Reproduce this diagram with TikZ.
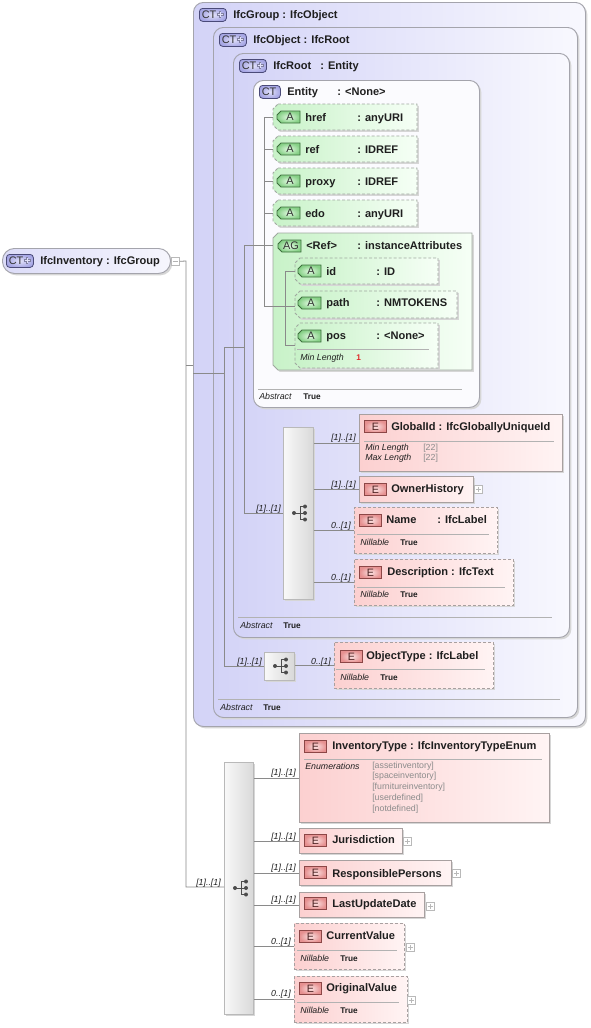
\documentclass[tikz,border=0pt]{standalone}
\usepackage{fontspec}
\setmainfont{Liberation Sans}
\usetikzlibrary{shadows}

\definecolor{lavL}{HTML}{D3D3F7}
\definecolor{lavR}{HTML}{F8F8FE}
\definecolor{rootL}{HTML}{DCDCF8}
\definecolor{rootR}{HTML}{F6F6FD}
\definecolor{entF}{HTML}{FBFBFE}
\definecolor{bord}{HTML}{A4A4AC}
\definecolor{conn}{HTML}{8A8A8A}
\definecolor{pinkL}{HTML}{FCD0D0}
\definecolor{pinkR}{HTML}{FFF4F4}
\definecolor{ebord}{HTML}{A8A0A0}
\definecolor{grnL}{HTML}{C8F2C8}
\definecolor{grnR}{HTML}{F6FFF6}
\definecolor{abord}{HTML}{A0A8A0}
\definecolor{ctIn}{HTML}{E2E2FA}
\definecolor{ctOut}{HTML}{A6A6E4}
\definecolor{ctD}{HTML}{4A4A78}
\definecolor{eIn}{HTML}{FBE2E2}
\definecolor{eOut}{HTML}{E69090}
\definecolor{eD}{HTML}{8C4646}
\definecolor{eT}{HTML}{4A2020}
\definecolor{aIn}{HTML}{E2FAE2}
\definecolor{aOut}{HTML}{86D086}
\definecolor{aD}{HTML}{3C6E3C}
\definecolor{enumc}{HTML}{8C8C8C}
\definecolor{redv}{HTML}{E02828}

\tikzset{
 cn/.style={draw=conn,line width=0.6pt},
 shd/.style={drop shadow={shadow xshift=1.4pt,shadow yshift=-1.4pt,fill=black!16,opacity=1}},
 ctbig/.style={draw=bord,line width=0.7pt,rounded corners=7.5pt,left color=lavL,right color=lavR,shd},
 entbox/.style={draw=bord,line width=0.7pt,rounded corners=7.5pt,fill=entF,shd},
 rootbox/.style={draw=bord,line width=0.7pt,rounded corners=9pt,left color=rootL,right color=rootR,shd},
 ebox/.style={draw=ebord,line width=0.6pt,left color=pinkL,right color=pinkR,shd},
 eboxd/.style={ebox,dash pattern=on 2.2pt off 1.5pt},
 attbox/.style={draw=abord,line width=0.6pt,left color=grnL,right color=grnR,dash pattern=on 2.2pt off 1.5pt,shd},
 agbox/.style={draw=abord,line width=0.6pt,left color=grnL,right color=grnR,shd},
 seqbox/.style={draw=gray!55,line width=0.6pt,left color=gray!5,right color=gray!30,shd},
 pmbox/.style={draw=gray!55,line width=0.5pt,fill=white},
 ebadge/.style={draw=eD,line width=0.6pt,inner color=eIn,outer color=eOut,minimum width=16.5pt,minimum height=9pt,inner sep=0pt,font=\fontsize{8}{9}\selectfont,text=eT},
 abadge/.style={draw=aD,line width=0.6pt,inner color=aIn,outer color=aOut},
 ctbadge/.style={draw=ctD,line width=0.6pt,rounded corners=2.5pt,inner color=ctIn,outer color=ctOut,minimum height=9.75pt,inner sep=0pt},
 badgetx/.style={inner sep=0pt,font=\fontsize{8.2}{9}\selectfont,text=black!80},
 tx/.style={inner sep=0pt,text=black!88,font=\fontsize{8.3}{10}\selectfont\bfseries},
 sm/.style={font=\fontsize{6.6}{8}\selectfont\itshape},
 tru/.style={font=\fontsize{6.2}{8}\selectfont\bfseries},
 card/.style={anchor=base east,font=\fontsize{6.6}{8}\selectfont\itshape},
 gv/.style={font=\fontsize{6.6}{8}\selectfont,text=enumc},
 sepl/.style={draw=gray!60,line width=0.6pt},
}

\newcounter{nn}
\newcommand\Bx[6]{\node[#1,anchor=north west,inner sep=0pt,minimum width={(#5-(#3))*0.75pt},minimum height={(#6-(#4))*0.75pt}] (#2) at (#3,#4) {};}
\newcommand\Cb[6]{\path[#1] (#3+5,#4) -- (#5,#4) -- (#5,#6) -- (#3+5,#6) -- (#3,#6-5) -- (#3,#4+5) -- cycle;
  \coordinate (#2) at (#3,{(#4+#6)/2});}
\newcommand\Tx[4][]{\stepcounter{nn}\node[tx,anchor=base west,#1] (t\arabic{nn}) at (#2,#3) {#4};}
\newcommand\Eb[2]{\stepcounter{nn}\node[ebadge,anchor=north west] (b\arabic{nn}) at (#1,#2) {E};}
\newcommand\Ab[3]{\path[abadge] (#1+4,#2) -- (#1+23,#2) -- (#1+23,#2+12) -- (#1+4,#2+12) -- (#1,#2+8) -- (#1,#2+4) -- cycle;
  \stepcounter{nn}\node[badgetx] (b\arabic{nn}) at (#1+13,#2+6) {#3};}
\newcommand\CTb[3]{\stepcounter{nn}\node[ctbadge,anchor=north west,minimum width={#3*0.75pt}] (b\arabic{nn}) at (#1,#2) {};
  \node[badgetx,anchor=west] (c\arabic{nn}) at (#1+2.5,#2+6.5) {CT};}
\newcommand\CTp[2]{\CTb{#1}{#2}{27}
  \draw[ctD!70,line width=2.1pt] (#1+17.5,#2+6.5) -- (#1+24.5,#2+6.5) (#1+21,#2+3) -- (#1+21,#2+10);
  \draw[ctIn,line width=0.5pt] (#1+18.5,#2+6.5) -- (#1+23.5,#2+6.5) (#1+21,#2+4) -- (#1+21,#2+9);}
\newcommand\Plus[2]{\stepcounter{nn}\Bx{pmbox}{p\arabic{nn}}{#1}{#2}{#1+8}{#2+8}
  \draw[gray!55,line width=0.5pt] (p\arabic{nn}.center) +(-2.5,0) -- +(2.5,0) (p\arabic{nn}.center) +(0,-2.5) -- +(0,2.5);}
\newcommand\SeqIcon[2]{\draw[black!70,line width=0.6pt] (#1-5,#2) -- (#1+1,#2) (#1+1,#2-6.5) -- (#1+1,#2+6.5) (#1+1,#2-6.5) -- (#1+6,#2-6.5) (#1+1,#2+6.5) -- (#1+6,#2+6.5) (#1+1,#2) -- (#1+6,#2);
  \fill[black!70] (#1-5,#2) circle (1.5pt) (#1+6,#2-6.5) circle (1.5pt) (#1+6,#2) circle (1.5pt) (#1+6,#2+6.5) circle (1.5pt);}

\begin{document}
\begin{tikzpicture}[x=0.75pt,y=-0.75pt]
\useasboundingbox (0,0) rectangle (590,1028);
\fill[white] (0,0) rectangle (590,1028);

% root type
\Bx{rootbox}{inv}{2}{248}{170}{273}
\Bx{pmbox}{invm}{171}{257}{179}{265}
\draw[gray!60,line width=0.5pt] (invm.center) +(-2.5,0) -- +(2.5,0);

% nested complex types
\Bx{ctbig}{grp}{193}{2}{585}{726}
\Bx{ctbig}{obj}{213}{27}{577}{717}
\Bx{ctbig}{rt}{233}{53}{569}{637}
\Bx{entbox}{ent}{253}{80}{479}{407}

% attributes
\Cb{attbox}{aHref}{273}{104}{417}{130}
\Cb{attbox}{aRef}{273}{136}{417}{162}
\Cb{attbox}{aProxy}{273}{168}{417}{194}
\Cb{attbox}{aEdo}{273}{200}{417}{226}
\Cb{agbox}{ag}{273}{233}{472}{370}
\Cb{attbox}{aId}{295}{258}{438}{284}
\Cb{attbox}{aPth}{295}{291}{457}{318}
\Cb{attbox}{aPos}{295}{323}{438}{368}

% sequences and elements
\Bx{seqbox}{seqA}{283}{427}{313}{599}
\Bx{ebox}{gid}{359}{414}{562}{471}
\Bx{ebox}{own}{359}{476}{473}{502}
\Bx{eboxd}{nam}{354}{507}{497}{553}
\Bx{eboxd}{desc}{354}{559}{513}{605}
\Bx{seqbox}{seqB}{264}{652}{294}{680}
\Bx{eboxd}{otype}{334}{642}{493}{688}
\Bx{seqbox}{seqC}{224}{762}{253}{1014}
\Bx{ebox}{itype}{299}{733}{549}{822}
\Bx{ebox}{jur}{299}{828}{402}{853}
\Bx{ebox}{resp}{299}{860}{451}{885}
\Bx{ebox}{lud}{299}{892}{424}{917}
\Bx{eboxd}{cur}{294}{923}{404}{969}
\Bx{eboxd}{orig}{294}{976}{407}{1022}

\Plus{474}{485}
\Plus{403}{837}
\Plus{452}{869}
\Plus{426}{902}
\Plus{406}{943}
\Plus{407}{996}

% connectors
\coordinate (r1) at (186,261);
\coordinate (r2) at (186,887);
\coordinate (r3) at (186,365);
\draw[cn] (invm.east) -- (r1) -- (r2) -- (seqC.west |- r2);
\draw[cn] (r3) -- (grp.west |- r3);
\coordinate (g2) at (224,373);
\coordinate (g3) at (224,347);
\coordinate (g4) at (224,666);
\draw[cn] (grp.west |- g2) -- (g2);
\draw[cn] (g3) -- (g4) -- (seqB.west |- g4);
\coordinate (o1) at (244,347);
\coordinate (o2) at (244,245);
\coordinate (o3) at (244,513);
\draw[cn] (g3) -- (o1);
\draw[cn] (o2) -- (o3) -- (seqA.west |- o3);
\draw[cn] (o2) -- (ag |- o2);
\coordinate (e1) at (264,117);
\coordinate (e2) at (264,306);
\draw[cn] (e1) -- (e2) -- (aPth |- e2);
\draw[cn] (e1) -- (aHref) (aRef -| e1) -- (aRef) (aProxy -| e1) -- (aProxy) (aEdo -| e1) -- (aEdo);
\coordinate (i1) at (285,271);
\coordinate (i2) at (285,345.5);
\draw[cn] (aId) -- (i1) -- (i2) -- (aPos);
\foreach \c in {gid,own,nam,desc} \draw[cn] (seqA.east |- \c.west) -- (\c.west);
\draw[cn] (seqB.east |- otype.west) -- (otype.west);
\foreach \c in {itype,jur,resp,lud,cur,orig} \draw[cn] (seqC.east |- \c.west) -- (\c.west);

\SeqIcon{299}{513}
\SeqIcon{280}{666}
\SeqIcon{240}{888}

% badges
\CTp{6}{254}
\CTp{199}{8}
\CTp{219}{33}
\CTp{239}{59}
\CTb{259}{85}{21}
\Ab{277}{111}{A}
\Ab{277}{143}{A}
\Ab{277}{175}{A}
\Ab{277}{207}{A}
\Ab{278}{240}{AG}
\Ab{298}{265}{A}
\Ab{298}{297}{A}
\Ab{298}{330}{A}
\Eb{364}{420}
\Eb{364}{483}
\Eb{359}{514}
\Eb{359}{566}
\Eb{340}{650}
\Eb{304}{740}
\Eb{304}{834}
\Eb{304}{866}
\Eb{304}{897}
\Eb{299}{930}
\Eb{299}{982}

% texts
\Tx{40}{264}{IfcInventory : IfcGroup}
\Tx{233}{18}{IfcGroup : IfcObject}
\Tx{253}{43}{IfcObject : IfcRoot}
\Tx{273}{69}{IfcRoot} \Tx{320}{69}{: Entity}
\Tx{287}{95}{Entity} \Tx{337}{95}{: <None>}
\Tx{305}{121}{href} \Tx{357}{121}{: anyURI}
\Tx{305}{153}{ref} \Tx{357}{153}{: IDREF}
\Tx{305}{185}{proxy} \Tx{357}{185}{: IDREF}
\Tx{305}{217}{edo} \Tx{357}{217}{: anyURI}
\Tx{306}{249}{<Ref>} \Tx{357}{249}{: instanceAttributes}
\Tx{326}{275}{id} \Tx{376}{275}{: ID}
\Tx{326}{306}{path} \Tx{376}{306}{: NMTOKENS}
\Tx{326}{339}{pos} \Tx{376}{339}{: <None>}
\draw[sepl] (297,349) -- (429,349);
\Tx[sm]{300}{360}{Min Length} \Tx[tru,text=redv]{356}{360}{1}
\draw[sepl] (258,389) -- (462,389);
\Tx[sm]{259}{399}{Abstract} \Tx[tru]{303}{399}{True}

\Tx{391}{430}{GlobalId : IfcGloballyUniqueId}
\draw[sepl] (364,441) -- (554,441);
\Tx[sm]{365}{450.5}{Min Length} \Tx[gv]{423}{450.5}{[22]}
\Tx[sm]{365}{460.5}{Max Length} \Tx[gv]{423}{460.5}{[22]}
\Tx{391}{492}{OwnerHistory}
\Tx{386}{523}{Name} \Tx{437}{523}{: IfcLabel}
\draw[sepl] (357,534) -- (489,534);
\Tx[sm]{360}{545}{Nillable} \Tx[tru]{400}{545}{True}
\Tx{387}{575}{Description : IfcText}
\draw[sepl] (357,587) -- (505,587);
\Tx[sm]{360}{597}{Nillable} \Tx[tru]{400}{597}{True}
\draw[sepl] (238,617) -- (552,617);
\Tx[sm]{240}{628}{Abstract} \Tx[tru]{283}{628}{True}
\Tx{366}{659}{ObjectType : IfcLabel}
\draw[sepl] (336,669) -- (485,669);
\Tx[sm]{340}{680}{Nillable} \Tx[tru]{380}{680}{True}
\draw[sepl] (218,699) -- (560,699);
\Tx[sm]{220}{710}{Abstract} \Tx[tru]{263}{710}{True}

\Tx{332}{749}{InventoryType : IfcInventoryTypeEnum}
\draw[sepl] (304,759) -- (542,759);
\Tx[sm]{305}{769}{Enumerations}
\Tx[gv]{372}{768}{[assetinventory]}
\Tx[gv]{372}{778.8}{[spaceinventory]}
\Tx[gv]{372}{789.6}{[furnitureinventory]}
\Tx[gv]{372}{800.4}{[userdefined]}
\Tx[gv]{372}{811.2}{[notdefined]}
\Tx{332}{843}{Jurisdiction}
\Tx{332}{877}{ResponsiblePersons}
\Tx{332}{907}{LastUpdateDate}
\Tx{326}{939}{CurrentValue}
\draw[sepl] (297,950) -- (397,950);
\Tx[sm]{300}{961}{Nillable} \Tx[tru]{340}{961}{True}
\Tx{326}{991}{OriginalValue}
\draw[sepl] (297,1002) -- (399,1002);
\Tx[sm]{300}{1013}{Nillable} \Tx[tru]{340}{1013}{True}

% cardinalities
\Tx[card]{281}{511}{[1]..[1]}
\Tx[card]{356}{440}{[1]..[1]}
\Tx[card]{356}{487}{[1]..[1]}
\Tx[card]{351}{528}{0..[1]}
\Tx[card]{351}{580}{0..[1]}
\Tx[card]{262}{664}{[1]..[1]}
\Tx[card]{331}{664}{0..[1]}
\Tx[card]{221}{885}{[1]..[1]}
\Tx[card]{296}{775}{[1]..[1]}
\Tx[card]{296}{839}{[1]..[1]}
\Tx[card]{296}{870}{[1]..[1]}
\Tx[card]{296}{902}{[1]..[1]}
\Tx[card]{291}{944}{0..[1]}
\Tx[card]{291}{996}{0..[1]}
\end{tikzpicture}
\end{document}
